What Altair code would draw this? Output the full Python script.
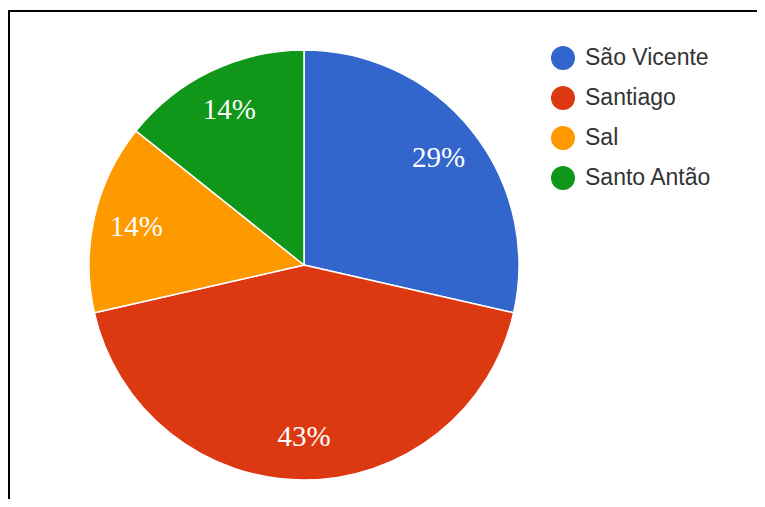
import altair as alt
import pandas as pd

islands = ["São Vicente", "Santiago", "Sal", "Santo Antão"]
counts = [2, 3, 1, 1]
labels = ["29%", "43%", "14%", "14%"]
colors = ["#3366cc", "#dc3912", "#ff9900", "#109618"]

df = pd.DataFrame({
    "island": islands,
    "count": counts,
    "label": labels,
    "order": list(range(len(islands))),
})

CX, CY = 296, 257

base = alt.Chart(df).encode(
    theta=alt.Theta("count:Q", stack=True),
    order=alt.Order("order:Q"),
)

pie = base.mark_arc(radius=215, stroke="white", strokeWidth=1.5).encode(
    x=alt.value(CX),
    y=alt.value(CY),
    color=alt.Color(
        "island:N",
        scale=alt.Scale(domain=islands, range=colors),
        sort=islands,
        title=None,
        legend=alt.Legend(
            orient="none",
            legendX=543,
            legendY=38,
            symbolType="circle",
            symbolSize=576,
            symbolStrokeWidth=0,
            symbolOpacity=1,
            labelFont="Liberation Sans",
            labelFontSize=23,
            labelColor="#333333",
            labelOffset=10,
            rowPadding=16,
        ),
    ),
)

text = base.mark_text(
    radius=172,
    font="Liberation Serif",
    fontSize=29,
    color="white",
    baseline="middle",
    align="center",
).encode(
    x=alt.value(CX),
    y=alt.value(CY),
    text="label:N",
)

left_border = alt.Chart(df).mark_rule(color="black", strokeWidth=2).encode(
    x=alt.value(1), y=alt.value(3), y2=alt.value(600)
)
top_border = alt.Chart(df).mark_rule(color="black", strokeWidth=2).encode(
    x=alt.value(0), x2=alt.value(900), y=alt.value(3)
)

chart = alt.layer(pie, text, left_border, top_border).properties(
    width=749,
    height=491,
    padding=0,
    autosize=alt.AutoSizeParams(type="none"),
    background="white",
).configure_view(strokeWidth=0)

chart.save("out.html", embed_options={"renderer": "svg", "actions": False})
